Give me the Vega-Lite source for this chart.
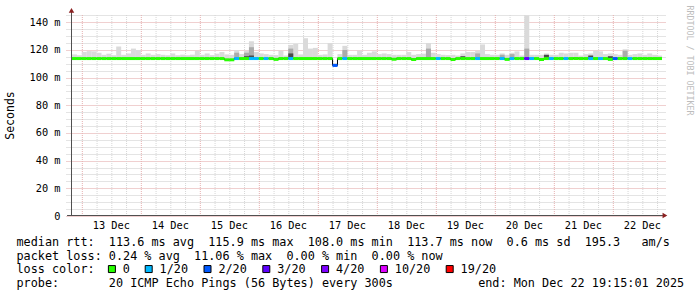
{
  "$schema": "https://vega.github.io/schema/vega-lite/v6.json",
  "width": 600,
  "height": 202,
  "autosize": {"type": "none"},
  "padding": {"left": 66, "top": 14, "right": 31, "bottom": 81},
  "background": "white",
  "config": {
    "font": "DejaVu Sans Mono",
    "view": {"stroke": null},
    "legend": {
      "orient": "none",
      "legendX": 40,
      "legendY": 249,
      "direction": "horizontal",
      "padding": 0,
      "symbolType": "square",
      "symbolSize": 49,
      "symbolStrokeColor": "black",
      "symbolStrokeWidth": 1,
      "labelFont": "DejaVu Sans Mono",
      "labelFontSize": 11.8,
      "labelColor": "black",
      "labelOffset": 5,
      "columnPadding": 12.8
    }
  },
  "datasets": {
    "gridhours": [
      {"g": 0}, {"g": 6}, {"g": 12}, {"g": 18}, {"g": 24}, {"g": 30}, {"g": 36}, {"g": 42},
      {"g": 48}, {"g": 54}, {"g": 60}, {"g": 66}, {"g": 72}, {"g": 78}, {"g": 84}, {"g": 90},
      {"g": 96}, {"g": 102}, {"g": 108}, {"g": 114}, {"g": 120}, {"g": 126}, {"g": 132}, {"g": 138},
      {"g": 144}, {"g": 150}, {"g": 156}, {"g": 162}, {"g": 168}, {"g": 174}, {"g": 180}, {"g": 186},
      {"g": 192}, {"g": 198}, {"g": 204}, {"g": 210}, {"g": 216}, {"g": 222}, {"g": 228}, {"g": 234}
    ],
    "days": [
      {"noon": 12, "day": "13 Dec"}, {"noon": 36, "day": "14 Dec"}, {"noon": 60, "day": "15 Dec"},
      {"noon": 84, "day": "16 Dec"}, {"noon": 108, "day": "17 Dec"}, {"noon": 132, "day": "18 Dec"},
      {"noon": 156, "day": "19 Dec"}, {"noon": 180, "day": "20 Dec"}, {"noon": 204, "day": "21 Dec"},
      {"noon": 228, "day": "22 Dec"}
    ],
    "rtt": [
      {"t": -3, "med": 113.8, "hi": 116.8, "loss": "0"},
      {"t": -1, "med": 113.8, "hi": 116.2, "loss": "0"},
      {"t": 1, "med": 113.8, "hi": 118.6, "loss": "0"},
      {"t": 3, "med": 113.8, "hi": 119.2, "loss": "0"},
      {"t": 5, "med": 113.8, "hi": 119, "loss": "0"},
      {"t": 7, "med": 113.8, "hi": 118, "loss": "0"},
      {"t": 9, "med": 113.8, "hi": 116.5, "loss": "0"},
      {"t": 11, "med": 113.8, "hi": 117.3, "loss": "0"},
      {"t": 13, "med": 113.8, "hi": 116.2, "loss": "0"},
      {"t": 15, "med": 113.8, "hi": 122.5, "loss": "0"},
      {"t": 17, "med": 113.8, "hi": 116.5, "loss": "0"},
      {"t": 19, "med": 113.8, "hi": 117.5, "loss": "0"},
      {"t": 21, "med": 113.8, "hi": 121, "loss": "0"},
      {"t": 23, "med": 113.8, "hi": 120, "loss": "0"},
      {"t": 25, "med": 113.8, "hi": 116.5, "loss": "0"},
      {"t": 27, "med": 113.8, "hi": 117.5, "loss": "0"},
      {"t": 29, "med": 113.8, "hi": 116.5, "loss": "0"},
      {"t": 31, "med": 113.8, "hi": 117, "loss": "0"},
      {"t": 33, "med": 113.8, "hi": 116.5, "loss": "0"},
      {"t": 35, "med": 113.8, "hi": 116.2, "loss": "0"},
      {"t": 37, "med": 113.8, "hi": 117.5, "loss": "0"},
      {"t": 39, "med": 113.8, "hi": 116.2, "loss": "0"},
      {"t": 41, "med": 113.8, "hi": 116.6, "loss": "0"},
      {"t": 43, "med": 113.8, "hi": 116.2, "loss": "0"},
      {"t": 45, "med": 113.8, "hi": 116.6, "loss": "0"},
      {"t": 47, "med": 113.8, "hi": 119.3, "loss": "0"},
      {"t": 49, "med": 113.8, "hi": 116.5, "loss": "0"},
      {"t": 51, "med": 113.8, "hi": 117.5, "loss": "0"},
      {"t": 53, "med": 113.8, "hi": 116.3, "loss": "0"},
      {"t": 55, "med": 113.8, "hi": 117.3, "loss": "0"},
      {"t": 57, "med": 113.8, "hi": 118.5, "loss": "0"},
      {"t": 59, "med": 112.9, "hi": 116.8, "loss": "0"},
      {"t": 61, "med": 112.9, "hi": 116.5, "loss": "0"},
      {"t": 63, "med": 113.8, "hi": 120, "dk": 118, "loss": "1/20"},
      {"t": 65, "med": 113.8, "hi": 117, "loss": "0"},
      {"t": 67, "med": 113.8, "hi": 119.5, "dk": 118, "bk": 115.5, "loss": "0"},
      {"t": 69, "med": 113.8, "hi": 126.3, "dk": 122, "bk": 116, "loss": "1/20"},
      {"t": 71, "med": 113.8, "hi": 118.5, "loss": "1/20"},
      {"t": 73, "med": 113.8, "hi": 117.5, "loss": "0"},
      {"t": 75, "med": 113.8, "hi": 117, "loss": "1/20"},
      {"t": 77, "med": 113.8, "hi": 116.5, "loss": "0"},
      {"t": 79, "med": 113.2, "hi": 116.3, "loss": "0"},
      {"t": 81, "med": 113.8, "hi": 119.5, "loss": "0"},
      {"t": 83, "med": 113.8, "hi": 116, "loss": "0"},
      {"t": 85, "med": 113.8, "hi": 123.7, "dk": 121, "bk": 117.5, "loss": "1/20"},
      {"t": 87, "med": 113.8, "hi": 124.4, "loss": "0"},
      {"t": 89, "med": 113.8, "hi": 116.8, "loss": "0"},
      {"t": 91, "med": 113.8, "hi": 128.5, "loss": "0"},
      {"t": 93, "med": 113.8, "hi": 121, "loss": "0"},
      {"t": 95, "med": 113.8, "hi": 121.5, "loss": "0"},
      {"t": 97, "med": 113.8, "hi": 116.5, "loss": "0"},
      {"t": 99, "med": 113.8, "hi": 116.8, "loss": "0"},
      {"t": 101, "med": 113.8, "hi": 125, "loss": "0"},
      {"t": 103, "med": 108.8, "hi": 110.5, "loss": "2/20"},
      {"t": 105, "med": 113.8, "hi": 117, "loss": "0"},
      {"t": 107, "med": 113.8, "hi": 123, "dk": 120, "loss": "1/20"},
      {"t": 109, "med": 113.8, "hi": 116.5, "loss": "0"},
      {"t": 111, "med": 113.8, "hi": 116.5, "loss": "0"},
      {"t": 113, "med": 113.8, "hi": 119.5, "loss": "0"},
      {"t": 115, "med": 113.8, "hi": 116.5, "loss": "0"},
      {"t": 117, "med": 113.8, "hi": 118, "loss": "0"},
      {"t": 119, "med": 113.8, "hi": 119, "loss": "0"},
      {"t": 121, "med": 113.8, "hi": 117, "loss": "0"},
      {"t": 123, "med": 113.8, "hi": 117.5, "loss": "0"},
      {"t": 125, "med": 113.8, "hi": 117, "loss": "0"},
      {"t": 127, "med": 113.3, "hi": 116.5, "loss": "0"},
      {"t": 129, "med": 113.8, "hi": 116.5, "loss": "0"},
      {"t": 131, "med": 113.8, "hi": 116.5, "loss": "0"},
      {"t": 133, "med": 113.8, "hi": 118.5, "loss": "0"},
      {"t": 135, "med": 113.1, "hi": 116.5, "loss": "0"},
      {"t": 137, "med": 113.8, "hi": 117, "loss": "0"},
      {"t": 139, "med": 113.8, "hi": 117.3, "loss": "0"},
      {"t": 141, "med": 113.8, "hi": 125, "dk": 121, "loss": "0"},
      {"t": 143, "med": 113.8, "hi": 118, "loss": "0"},
      {"t": 145, "med": 113.8, "hi": 117, "loss": "1/20"},
      {"t": 147, "med": 113.8, "hi": 116.5, "loss": "0"},
      {"t": 149, "med": 113.8, "hi": 116.3, "loss": "0"},
      {"t": 151, "med": 113.1, "hi": 116.5, "loss": "0"},
      {"t": 153, "med": 113.8, "hi": 116, "loss": "0"},
      {"t": 155, "med": 113.8, "hi": 117.5, "bk": 115.5, "loss": "0"},
      {"t": 157, "med": 113.8, "hi": 118.5, "loss": "0"},
      {"t": 159, "med": 113.8, "hi": 118.5, "loss": "0"},
      {"t": 161, "med": 113.8, "hi": 119.5, "dk": 117.5, "loss": "1/20"},
      {"t": 163, "med": 113.8, "hi": 124, "loss": "0"},
      {"t": 165, "med": 113.8, "hi": 117, "loss": "0"},
      {"t": 167, "med": 113.8, "hi": 116.5, "loss": "0"},
      {"t": 169, "med": 113.8, "hi": 116.5, "loss": "0"},
      {"t": 171, "med": 113.8, "hi": 117.5, "dk": 116.5, "loss": "1/20"},
      {"t": 173, "med": 113.2, "hi": 116.5, "loss": "0"},
      {"t": 175, "med": 113.8, "hi": 118, "dk": 117, "loss": "1/20"},
      {"t": 177, "med": 113.8, "hi": 119, "loss": "0"},
      {"t": 179, "med": 113.8, "hi": 116, "loss": "0"},
      {"t": 181, "med": 113.8, "hi": 145, "dk": 121, "loss": "3/20"},
      {"t": 183, "med": 113.8, "hi": 116.5, "loss": "1/20"},
      {"t": 185, "med": 113.8, "hi": 116.5, "loss": "0"},
      {"t": 187, "med": 113.1, "hi": 116.5, "loss": "0"},
      {"t": 189, "med": 113.8, "hi": 117.5, "bk": 116.5, "loss": "0"},
      {"t": 191, "med": 113.8, "hi": 116.5, "loss": "1/20"},
      {"t": 193, "med": 113.8, "hi": 116.5, "loss": "0"},
      {"t": 195, "med": 113.8, "hi": 118, "loss": "0"},
      {"t": 197, "med": 113.8, "hi": 117.5, "loss": "1/20"},
      {"t": 199, "med": 113.8, "hi": 118, "loss": "0"},
      {"t": 201, "med": 113.8, "hi": 118, "bk": 115, "loss": "0"},
      {"t": 203, "med": 113.8, "hi": 116, "loss": "0"},
      {"t": 205, "med": 113.8, "hi": 117, "loss": "0"},
      {"t": 207, "med": 113.8, "hi": 117.5, "bk": 116, "loss": "1/20"},
      {"t": 209, "med": 113.8, "hi": 119.5, "loss": "0"},
      {"t": 211, "med": 113.8, "hi": 119, "loss": "1/20"},
      {"t": 213, "med": 113.8, "hi": 117, "loss": "0"},
      {"t": 215, "med": 113.2, "hi": 117.5, "bk": 115.5, "loss": "0"},
      {"t": 217, "med": 113.8, "hi": 117, "loss": "2/20"},
      {"t": 219, "med": 113.8, "hi": 116.5, "loss": "0"},
      {"t": 221, "med": 113.8, "hi": 120.5, "dk": 119.5, "loss": "0"},
      {"t": 223, "med": 113.8, "hi": 116.5, "loss": "1/20"},
      {"t": 225, "med": 113.8, "hi": 117, "loss": "0"},
      {"t": 227, "med": 113.8, "hi": 117.5, "loss": "0"},
      {"t": 229, "med": 113.8, "hi": 116.5, "loss": "0"},
      {"t": 231, "med": 113.8, "hi": 117.5, "loss": "0"},
      {"t": 233, "med": 113.8, "hi": 116.5, "loss": "0"},
      {"t": 235, "med": 113.8, "hi": 116, "loss": "0"}
    ]
  },
  "data": {"name": "rtt"},
  "resolve": {"axis": {"y": "independent"}},
  "layer": [
    {
      "data": {"name": "gridhours"},
      "mark": {"type": "rule", "strokeDash": [1, 1], "strokeWidth": 1},
      "encoding": {
        "x": {"field": "g", "type": "quantitative", "axis": null},
        "xOffset": {"value": 0.5},
        "y": {"datum": 0, "type": "quantitative", "axis": null},
        "y2": {"datum": 146},
        "color": {"condition": {"test": "datum.g % 24 == 0", "value": "#e6b0b0"}, "value": "#d6d6d6"}
      }
    },
    {
      "mark": {"type": "bar", "size": 5, "orient": "vertical", "clip": true, "color": "#dadada"},
      "encoding": {
        "x": {
          "field": "t", "type": "quantitative",
          "scale": {"domain": [-4.4, 235.6], "nice": false, "zero": false},
          "axis": null
        },
        "y": {
          "field": "hi", "type": "quantitative",
          "scale": {"domain": [0, 146], "nice": false, "zero": false},
          "axis": {
            "values": [0,5,10,15,20,25,30,35,40,45,50,55,60,65,70,75,80,85,90,95,100,105,110,115,120,125,130,135,140,145],
            "labelExpr": "datum.value % 20 == 0 ? (datum.value == 0 ? '0  ' : datum.value + ' m') : ''",
            "grid": true,
            "gridColor": {"condition": {"test": "datum.value % 20 == 0", "value": "#e0a0a0"}, "value": "#c8c8c8"},
            "gridDash": [1, 1],
            "gridWidth": 1,
            "ticks": false,
            "domain": false,
            "labelPadding": 6,
            "labelFont": "DejaVu Sans Mono",
            "labelFontSize": 10.3,
            "labelColor": "#000000",
            "labelOverlap": false,
            "title": "Seconds",
            "titleX": -55.5,
            "titleY": 101,
            "titleAngle": 270,
            "titleAlign": "center",
            "titleBaseline": "middle",
            "titleFont": "DejaVu Sans Mono",
            "titleFontSize": 11.5,
            "titleFontWeight": "normal",
            "titleColor": "#000000"
          }
        },
        "y2": {"field": "med"}
      }
    },
    {
      "transform": [{"filter": "isValid(datum.dk)"}],
      "mark": {"type": "bar", "size": 5, "orient": "vertical", "clip": true, "color": "#ababab"},
      "encoding": {
        "x": {"field": "t", "type": "quantitative", "axis": null},
        "y": {
          "field": "dk", "type": "quantitative",
          "axis": {
            "orient": "left",
            "labels": false, "ticks": false, "domain": false, "grid": false,
            "title": [
              "median rtt:\u00a0\u00a0113.6 ms avg\u00a0\u00a0115.9 ms max\u00a0\u00a0108.0 ms min\u00a0\u00a0113.7 ms now\u00a0\u00a00.6 ms sd\u00a0\u00a0195.3\u00a0\u00a0\u00a0am/s",
              "packet loss: 0.24 % avg\u00a0\u00a011.06 % max\u00a0\u00a00.00 % min\u00a0\u00a00.00 % now",
              "loss color:",
              "probe:\u00a0\u00a0\u00a0\u00a0\u00a0\u00a0\u00a020 ICMP Echo Pings (56 Bytes) every 300s\u00a0\u00a0\u00a0\u00a0\u00a0\u00a0\u00a0\u00a0\u00a0\u00a0\u00a0\u00a0end: Mon Dec 22 19:15:01 2025"
            ],
            "titleX": -50,
            "titleY": 231.5,
            "titleAngle": 0,
            "titleAlign": "left",
            "titleBaseline": "alphabetic",
            "titleFont": "DejaVu Sans Mono",
            "titleFontSize": 11.8,
            "titleFontWeight": "normal",
            "titleColor": "#000000",
            "titleLineHeight": 13.7,
            "titleLimit": 2000
          }
        },
        "y2": {"field": "med"}
      }
    },
    {
      "transform": [{"filter": "isValid(datum.bk)"}],
      "mark": {"type": "bar", "size": 5, "orient": "vertical", "clip": true, "color": "#4a4a4a"},
      "encoding": {
        "x": {"field": "t", "type": "quantitative", "axis": null},
        "y": {
          "field": "bk", "type": "quantitative",
          "axis": {
            "orient": "right",
            "labels": false, "ticks": false, "domain": false, "grid": false,
            "title": "RRDTOOL / TOBI OETIKER",
            "titleX": 22.5,
            "titleY": -9,
            "titleAngle": 90,
            "titleAlign": "left",
            "titleBaseline": "middle",
            "titleFont": "DejaVu Sans Mono",
            "titleFontSize": 8.3,
            "titleFontWeight": "normal",
            "titleColor": "#bdbdbd"
          }
        },
        "y2": {"field": "med"}
      }
    },
    {
      "mark": {"type": "line", "interpolate": "step", "clip": true, "color": "#000000", "strokeWidth": 1},
      "encoding": {
        "x": {"field": "t", "type": "quantitative", "axis": null},
        "y": {"field": "med", "type": "quantitative", "axis": null}
      }
    },
    {
      "mark": {"type": "tick", "orient": "horizontal", "size": 5, "thickness": 3, "clip": true, "opacity": 1},
      "encoding": {
        "x": {"field": "t", "type": "quantitative", "axis": null},
        "y": {"field": "med", "type": "quantitative", "axis": null},
        "color": {
          "field": "loss", "type": "nominal",
          "scale": {
            "domain": ["0", "1/20", "2/20", "3/20", "4/20", "10/20", "19/20"],
            "range": ["#26ff00", "#00b8ff", "#0059ff", "#5e00ff", "#7e00ff", "#dd00ff", "#ff0000"]
          },
          "legend": {
            "title": null,
            "encode": {
              "symbols": {"update": {"stroke": {"value": "#000000"}, "strokeWidth": {"value": 1}, "opacity": {"value": 1}}}
            }
          }
        }
      }
    },
    {
      "data": {"name": "days"},
      "mark": {"type": "text", "baseline": "top", "align": "center", "dy": 5, "font": "DejaVu Sans Mono", "fontSize": 10.3, "color": "#000000"},
      "encoding": {
        "x": {"field": "noon", "type": "quantitative", "axis": null},
        "y": {"datum": 0, "type": "quantitative", "axis": null},
        "text": {"field": "day"}
      }
    },
    {
      "data": {"values": [{}]},
      "mark": {"type": "rule", "color": "#505050", "strokeWidth": 1},
      "encoding": {
        "x": {"datum": -6, "type": "quantitative", "axis": null},
        "x2": {"datum": 236.4},
        "y": {"datum": 0, "type": "quantitative", "axis": null},
        "yOffset": {"value": -0.5}
      }
    },
    {
      "data": {"values": [{}]},
      "mark": {"type": "rule", "color": "#505050", "strokeWidth": 1},
      "encoding": {
        "x": {"datum": -4.4, "type": "quantitative", "axis": null},
        "xOffset": {"value": 0.5},
        "y": {"datum": 0, "type": "quantitative", "axis": null},
        "y2": {"datum": 147.5}
      }
    },
    {
      "data": {"values": [{}]},
      "mark": {"type": "point", "shape": "triangle-up", "filled": true, "size": 30, "color": "#8b2020", "opacity": 1},
      "encoding": {
        "x": {"datum": -4.4, "type": "quantitative", "axis": null},
        "xOffset": {"value": 0.5},
        "y": {"datum": 148.6, "type": "quantitative", "axis": null}
      }
    },
    {
      "data": {"values": [{}]},
      "mark": {"type": "point", "shape": "triangle-right", "filled": true, "size": 30, "color": "#8b2020", "opacity": 1},
      "encoding": {
        "x": {"datum": 237.2, "type": "quantitative", "axis": null},
        "y": {"datum": 0, "type": "quantitative", "axis": null},
        "yOffset": {"value": -0.5}
      }
    }
  ]
}
